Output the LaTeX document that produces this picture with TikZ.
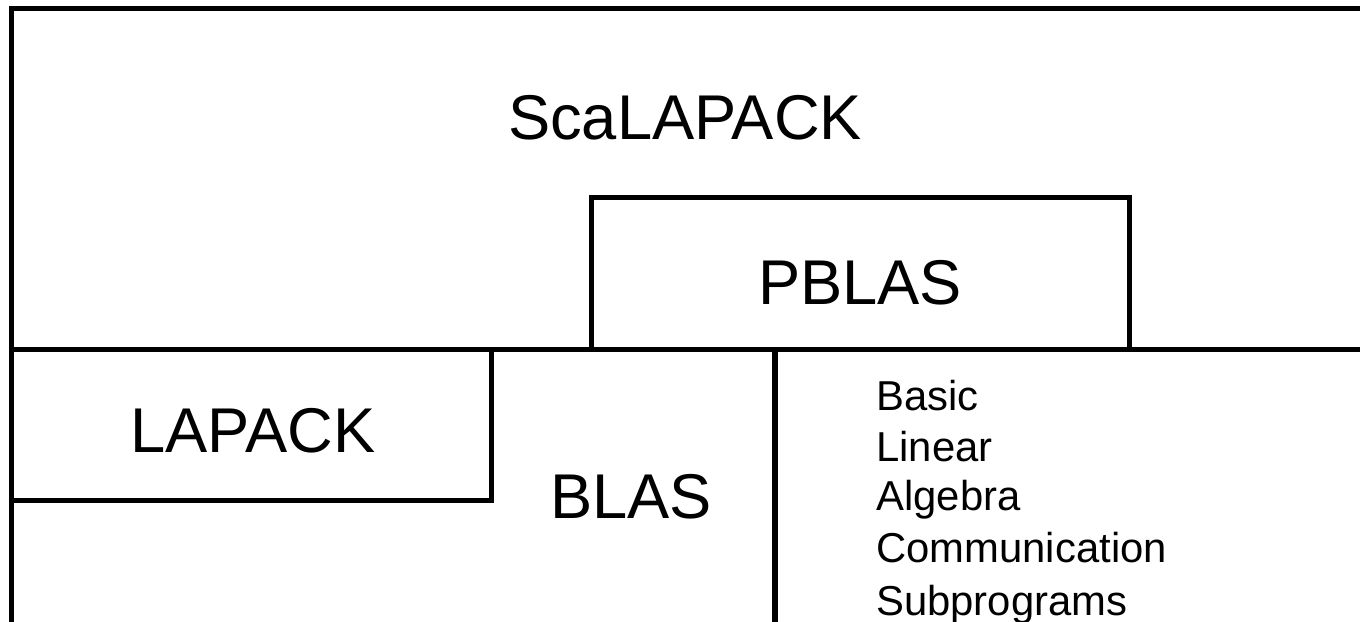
\documentclass[tikz,border=0pt]{standalone}
\usepackage{fontspec}
\setmainfont{Liberation Sans}
\begin{document}
\begin{tikzpicture}[x=0.02cm,y=-0.02cm,
  wall/.style={line width=3pt,line cap=rect,line join=miter},
  bigtext/.style={font=\fontsize{36pt}{42pt}\selectfont,inner sep=0pt},
  smalltext/.style={font=\fontsize{23.8pt}{28pt}\selectfont,inner sep=0pt,anchor=base west}]
\useasboundingbox (0,0) rectangle (1360,622);
\clip (0,0) rectangle (1360,622);
% coordinates
\coordinate (tl) at (11.5,8.5);
\coordinate (tr) at (1380,8.5);
\coordinate (bl) at (11.5,640);
\coordinate (ml) at (11.5,349.5);
\coordinate (mr) at (1380,349.5);
\coordinate (pbl) at (591.5,349.5);
\coordinate (ptl) at (591.5,197.5);
\coordinate (ptr) at (1129.5,197.5);
\coordinate (pbr) at (1129.5,349.5);
\coordinate (ltr) at (491.5,349.5);
\coordinate (lbr) at (491.5,500.5);
\coordinate (lbl) at (11.5,500.5);
\coordinate (vt) at (775,349.5);
\coordinate (vb) at (775,640);
% frame
\draw[wall] (bl) -- (tl) -- (tr);
\draw[wall] (ml) -- (mr);
\draw[wall] (pbl) -- (ptl) -- (ptr) -- (pbr);
\draw[wall] (ltr) -- (lbr) -- (lbl);
\draw[wall] (vt) -- (vb);
% labels
\node[bigtext] (scalapack) at (685,118) {ScaLAPACK};
\node[bigtext] (pblas) at (860,283) {PBLAS};
\node[bigtext] (lapack) at (253,431) {LAPACK};
\node[bigtext] (blas) at (631,497) {BLAS};
\node[smalltext] (basic) at (876,410) {Basic};
\node[smalltext] (linear) at (876,461) {Linear};
\node[smalltext] (algebra) at (876,510) {Algebra};
\node[smalltext] (comm) at (876,562) {Communication};
\node[smalltext] (subp) at (876,615) {Subprograms};
\end{tikzpicture}
\end{document}
